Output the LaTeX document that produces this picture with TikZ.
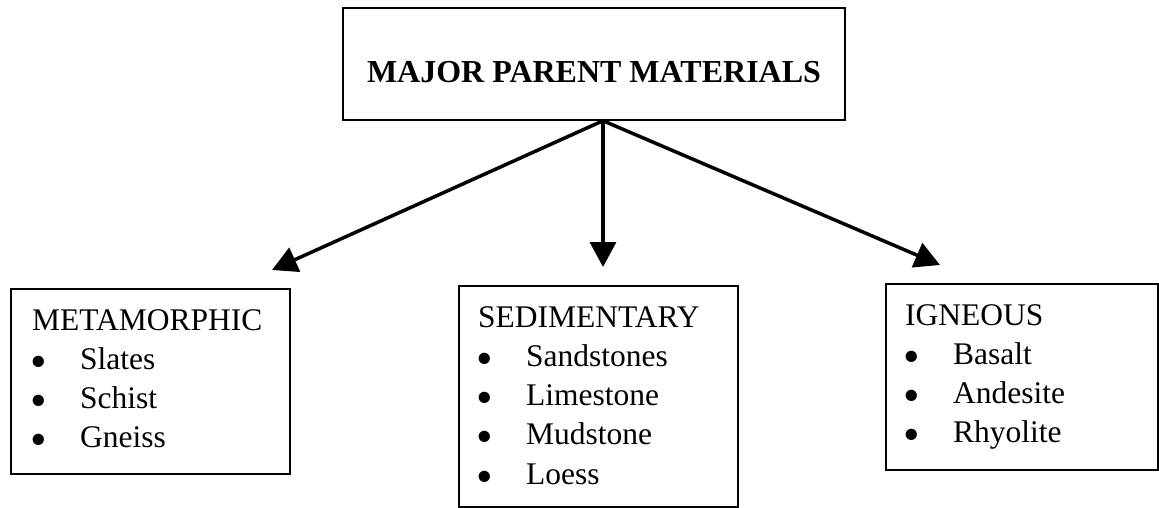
\documentclass[tikz,border=0pt]{standalone}
\usepackage{fontspec}
\setmainfont{Liberation Serif}
\usetikzlibrary{positioning, arrows.meta}
\newcommand{\rock}[1]{\makebox[48pt][l]{\hspace{-2pt}\smash{\raisebox{-8pt}{\scalebox{1.5}{\textbullet}}}}#1}

\begin{document}
\begin{tikzpicture}[
    x=1pt, y=-1pt,
    % GLOBAL CFG
    font=\fontsize{31.5}{39.3}\selectfont,
    >={Triangle[length=25pt, width=26pt]},
    % Styles
    box/.style={% For all boxes
        rectangle,
        draw=black,
        line width=1.5pt,
        inner sep=0pt,
    },
    rocklist/.style={% For the header and rocks inside a box
        align=left,
        inner sep=0pt,
    },
    title/.style={% For the main heading
        font=\fontsize{32}{38}\selectfont\bfseries,
        inner sep=0pt,
        anchor=base,
    },
    Arrow/.style={% Thick arrows
        ->,
        line width=3.5pt,
    },
    ]

    \useasboundingbox (0,0) rectangle (1159,508);

    % Draw
    % Draw main box
    \node [box, minimum width=502, minimum height=112] (major) at (594,64) {};
    \node [title] (majortext) at (594,83) {MAJOR PARENT MATERIALS};

    % Draw rock boxes named meta, sedi, igne
    \node [box, minimum width=279, minimum height=185, anchor=north west] (meta) at (10,288) {};
    \node [box, minimum width=279, minimum height=221, anchor=north west] (sedi) at (458,285) {};
    \node [box, minimum width=272, minimum height=186, anchor=north west] (igne) at (885,283) {};

    % Lists
    \node [rocklist, below right=21pt and 22pt of meta.north west] (metalist)
        {METAMORPHIC\\ \rock{Slates}\\ \rock{Schist}\\ \rock{Gneiss}};
    \node [rocklist, below right=21pt and 20pt of sedi.north west] (sedilist)
        {SEDIMENTARY\\ \rock{Sandstones}\\ \rock{Limestone}\\ \rock{Mudstone}\\ \rock{Loess}};
    \node [rocklist, below right=21pt and 20pt of igne.north west] (ignelist)
        {IGNEOUS\\ \rock{Basalt}\\ \rock{Andesite}\\ \rock{Rhyolite}};

    % Connect all
    \coordinate (src) at ([xshift=9pt]major.south);
    \coordinate (tipL) at (272,270);
    \coordinate (tipM) at (603,267);
    \coordinate (tipR) at (940,265);

    \draw [Arrow] (src) -- (tipL);
    \draw [Arrow] (src) -- (tipM);
    \draw [Arrow] (src) -- (tipR);

\end{tikzpicture}
\end{document}
